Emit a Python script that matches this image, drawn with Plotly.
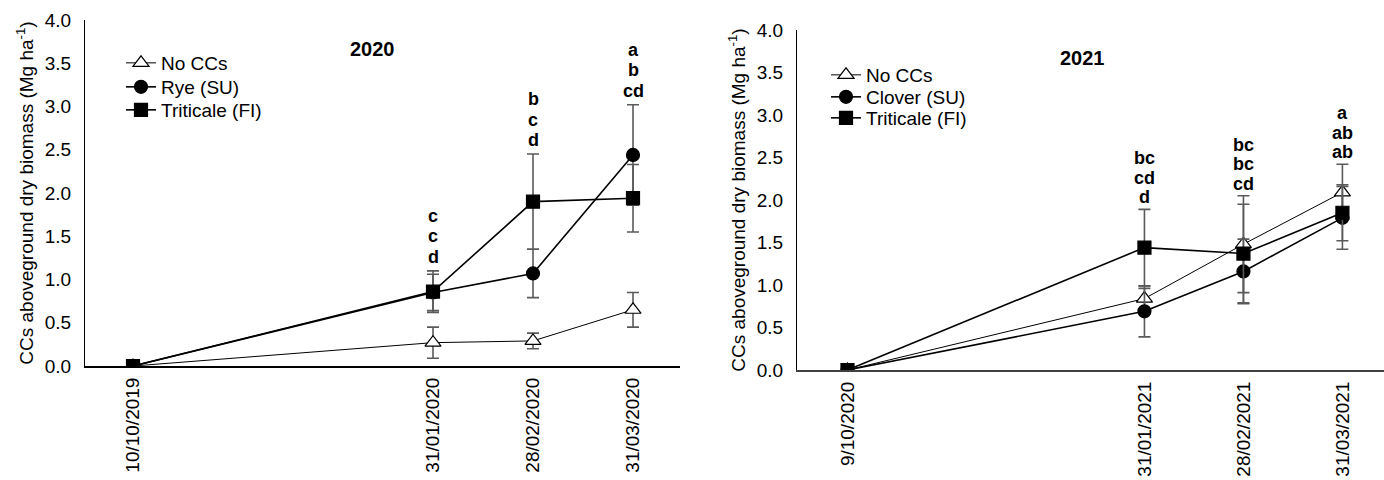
import plotly.graph_objects as go

# ---------------- data ----------------
sample_pos = [0, 3, 4, 5]  # ordinal positions of sampling dates on the axis
dates_2020 = ["10/10/2019", "31/01/2020", "28/02/2020", "31/03/2020"]
dates_2021 = ["9/10/2020", "31/01/2021", "28/02/2021", "31/03/2021"]

no_cc_2020 = [0.0, 0.27, 0.29, 0.65]
no_cc_2020_err = [0.0, 0.18, 0.09, 0.20]
rye_2020 = [0.0, 0.85, 1.07, 2.44]
rye_2020_err = [0.0, 0.21, 0.28, 0.58]
trit_2020 = [0.0, 0.86, 1.90, 1.94]
trit_2020_err = [0.0, 0.24, 0.55, 0.39]

no_cc_2021 = [0.0, 0.84, 1.48, 2.09]
no_cc_2021_err = [0.0, 0.12, 0.57, 0.33]
clover_2021 = [0.0, 0.69, 1.16, 1.79]
clover_2021_err = [0.0, 0.30, 0.38, 0.37]
trit_2021 = [0.0, 1.44, 1.37, 1.85]
trit_2021_err = [0.0, 0.45, 0.58, 0.33]

letters_2020 = [[], ["c", "c", "d"], ["b", "c", "d"], ["a", "b", "cd"]]
letters_2021 = [[], ["bc", "cd", "d"], ["bc", "bc", "cd"], ["a", "ab", "ab"]]

FONT = "Arial, Liberation Sans, sans-serif"
ERR_COLOR = "#5a5a5a"

fig = go.Figure()

# legend rows (page pixel centres) for each panel
legend_rows_left = [63, 87, 110]
legend_rows_right = [75, 97, 118]
legend_layouts = {}


def add_series(name, y, err, xa, ya, legend, symbol, fill, lw, lx, ly):
    fig.add_trace(go.Scatter(
        x=sample_pos, y=y, name=name, mode="lines+markers",
        xaxis=xa, yaxis=ya, legend=legend,
        line=dict(color="black", width=lw),
        marker=dict(symbol=symbol, size=13 if symbol != "triangle-up" else 14,
                    color=fill, line=dict(color="black", width=1.2)),
        error_y=dict(type="data", array=err, visible=True, color=ERR_COLOR,
                     thickness=1.6, width=6),
    ))
    legend_layouts[legend] = dict(
        x=lx / 1384, y=1 - ly / 480, xanchor="left", yanchor="middle",
        bgcolor="rgba(0,0,0,0)", font=dict(family=FONT, size=19, color="black"),
        itemwidth=30, borderwidth=0,
    )


add_series("No CCs", no_cc_2020, no_cc_2020_err, "x", "y", "legend",
           "triangle-up", "white", 1, 121, legend_rows_left[0])
add_series("Rye (SU)", rye_2020, rye_2020_err, "x", "y", "legend2",
           "circle", "black", 1.6, 121, legend_rows_left[1])
add_series("Triticale (FI)", trit_2020, trit_2020_err, "x", "y", "legend3",
           "square", "black", 1.6, 121, legend_rows_left[2])

add_series("No CCs", no_cc_2021, no_cc_2021_err, "x2", "y2", "legend4",
           "triangle-up", "white", 1, 826, legend_rows_right[0])
add_series("Clover (SU)", clover_2021, clover_2021_err, "x2", "y2", "legend5",
           "circle", "black", 1.6, 826, legend_rows_right[1])
add_series("Triticale (FI)", trit_2021, trit_2021_err, "x2", "y2", "legend6",
           "square", "black", 1.6, 826, legend_rows_right[2])

annotations = []


def add_letters(letters, series, errs, xref, yref, base_shift, line_gap):
    for i, lines in enumerate(letters):
        if not lines:
            continue
        top = max(s[i] + e[i] for s, e in zip(series, errs))
        n = len(lines)
        for k, txt in enumerate(lines):
            annotations.append(dict(
                x=sample_pos[i], y=top, xref=xref, yref=yref, text=f"<b>{txt}</b>",
                showarrow=False, yanchor="middle", xanchor="center",
                yshift=base_shift + line_gap * (n - 1 - k),
                font=dict(family=FONT, size=18, color="black"),
            ))


add_letters(letters_2020, [no_cc_2020, rye_2020, trit_2020],
            [no_cc_2020_err, rye_2020_err, trit_2020_err], "x", "y", 14, 20.5)
add_letters(letters_2021, [no_cc_2021, clover_2021, trit_2021],
            [no_cc_2021_err, clover_2021_err, trit_2021_err], "x2", "y2", 12, 19.5)

annotations.append(dict(x=372 / 1384, y=1 - 49 / 480, xref="paper", yref="paper",
                        text="<b>2020</b>", showarrow=False, xanchor="center",
                        yanchor="middle", font=dict(family=FONT, size=20, color="black")))
annotations.append(dict(x=1082 / 1384, y=1 - 58 / 480, xref="paper", yref="paper",
                        text="<b>2021</b>", showarrow=False, xanchor="center",
                        yanchor="middle", font=dict(family=FONT, size=20, color="black")))

ytitle = "CCs aboveground dry biomass (Mg ha<sup>-1</sup>)"

xaxis_common = dict(
    tickmode="array", tickvals=sample_pos, tickangle=-90,
    showgrid=False, zeroline=False, showline=True, ticks="",
    tickfont=dict(family=FONT, size=19, color="black"),
    ticklabelstandoff=2, automargin=False,
)
yaxis_common = dict(
    range=[0, 4], tickvals=[0, 0.5, 1, 1.5, 2, 2.5, 3, 3.5, 4],
    tickformat=".1f", showgrid=False, zeroline=False, showline=True,
    linecolor="black", linewidth=1, ticks="",
    tickfont=dict(family=FONT, size=19, color="black"),
    ticklabelstandoff=9, automargin=False,
    title=dict(text=ytitle, font=dict(family=FONT, size=19, color="black"), standoff=6),
)

fig.update_layout(
    width=1384, height=480,
    margin=dict(l=0, r=0, t=0, b=0, autoexpand=False),
    paper_bgcolor="white", plot_bgcolor="white",
    font=dict(family=FONT, color="black"),
    xaxis=dict(domain=[85 / 1384, 680 / 1384], range=[-0.48, 5.47],
               ticktext=dates_2020, linecolor="black", linewidth=2, anchor="y",
               **xaxis_common),
    yaxis=dict(domain=[1 - 366 / 480, 1 - 20 / 480], anchor="x", **yaxis_common),
    xaxis2=dict(domain=[797 / 1384, 1.0], range=[-0.51, 5.42],
                ticktext=dates_2021, linecolor="#404040", linewidth=2, anchor="y2",
                **xaxis_common),
    yaxis2=dict(domain=[1 - 370 / 480, 1 - 30 / 480], anchor="x2", **yaxis_common),
    annotations=annotations,
    showlegend=True,
    **legend_layouts,
)

fig.write_html("out.html", config={"displayModeBar": False},
               post_script="document.body.style.margin='0px';")
